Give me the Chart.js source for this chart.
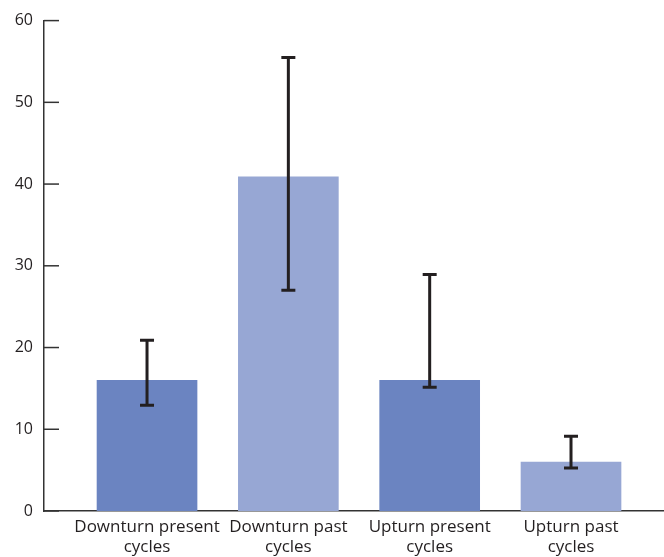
<!DOCTYPE html>
<html>
<head>
<meta charset="utf-8">
<script src="https://cdn.jsdelivr.net/npm/chart.js@4/dist/chart.umd.min.js"></script>
<style>
  html, body { margin: 0; padding: 0; background: #fff; }
  #wrap { width: 664px; height: 557px; position: relative; }
</style>
</head>
<body>
<div id="wrap"><canvas id="chart-area"></canvas></div>
<script>
const categories = [['Downturn present', 'cycles'], ['Downturn past', 'cycles'], ['Upturn present', 'cycles'], ['Upturn past', 'cycles']];
const means = [16, 40.9, 16, 6];
const errLow = [12.95, 27, 15.15, 5.25];
const errHigh = [20.9, 55.5, 28.95, 9.15];
const barColors = ['#6b84c1', '#97a7d4', '#6b84c1', '#97a7d4'];
const yTicks = [0, 10, 20, 30, 40, 50, 60];

const ink = '#231f20';

// error bars + inward y ticks
const extras = {
  id: 'extras',
  afterDatasetsDraw(chart) {
    const ctx = chart.ctx;
    const x = chart.scales.x, y = chart.scales.y;
    ctx.save();
    ctx.strokeStyle = ink;
    ctx.lineWidth = 3;
    means.forEach((m, i) => {
      const px = x.getPixelForValue(i + 1);
      const top = y.getPixelForValue(errHigh[i]);
      const bot = y.getPixelForValue(errLow[i]);
      ctx.beginPath();
      ctx.moveTo(px, top); ctx.lineTo(px, bot);
      ctx.moveTo(px - 7, top); ctx.lineTo(px + 7, top);
      ctx.moveTo(px - 7, bot); ctx.lineTo(px + 7, bot);
      ctx.stroke();
    });
    ctx.lineWidth = 1.5;
    ctx.strokeStyle = '#333';
    yTicks.forEach(v => {
      const py = y.getPixelForValue(v);
      ctx.beginPath();
      ctx.moveTo(chart.chartArea.left, py);
      ctx.lineTo(chart.chartArea.left + 15, py);
      ctx.stroke();
    });
    ctx.restore();
  }
};

const chart = new Chart(document.getElementById('chart-area').getContext('2d'), {
  type: 'bar',
  data: {
    datasets: [{
      data: means.map((v, i) => ({ x: i + 1, y: v })),
      backgroundColor: barColors,
      barThickness: 100,
      borderWidth: 0
    }]
  },
  options: {
    responsive: true,
    maintainAspectRatio: false,
    animation: false,
    layout: { padding: { top: 20, right: 0, left: 0, bottom: 0 } },
    plugins: { legend: { display: false }, tooltip: { enabled: false } },
    scales: {
      x: {
        type: 'linear',
        offset: false,
        min: 0.271,
        max: 4.658,
        afterBuildTicks(s) { s.ticks = categories.map((c, i) => ({ value: i + 1 })); },
        afterFit(s) { s.height = 46; },
        grid: { display: false, drawTicks: false, offset: false },
        border: { display: true, color: '#333', width: 1.5 },
        ticks: {
          padding: 6,
          color: ink,
          font: { family: 'Open Sans', size: 17 },
          maxRotation: 0,
          autoSkip: false,
          callback: (v) => categories[v - 1] || ''
        }
      },
      y: {
        min: 0,
        max: 60,
        afterBuildTicks(s) { s.ticks = yTicks.map(v => ({ value: v })); },
        afterFit(s) { s.width = 44; },
        grid: { display: false, drawTicks: false },
        border: { display: true, color: '#333', width: 1.5 },
        ticks: {
          padding: 11,
          color: ink,
          font: { family: 'Open Sans', size: 16 }
        }
      }
    }
  },
  plugins: [extras]
});
</script>
</body>
</html>
